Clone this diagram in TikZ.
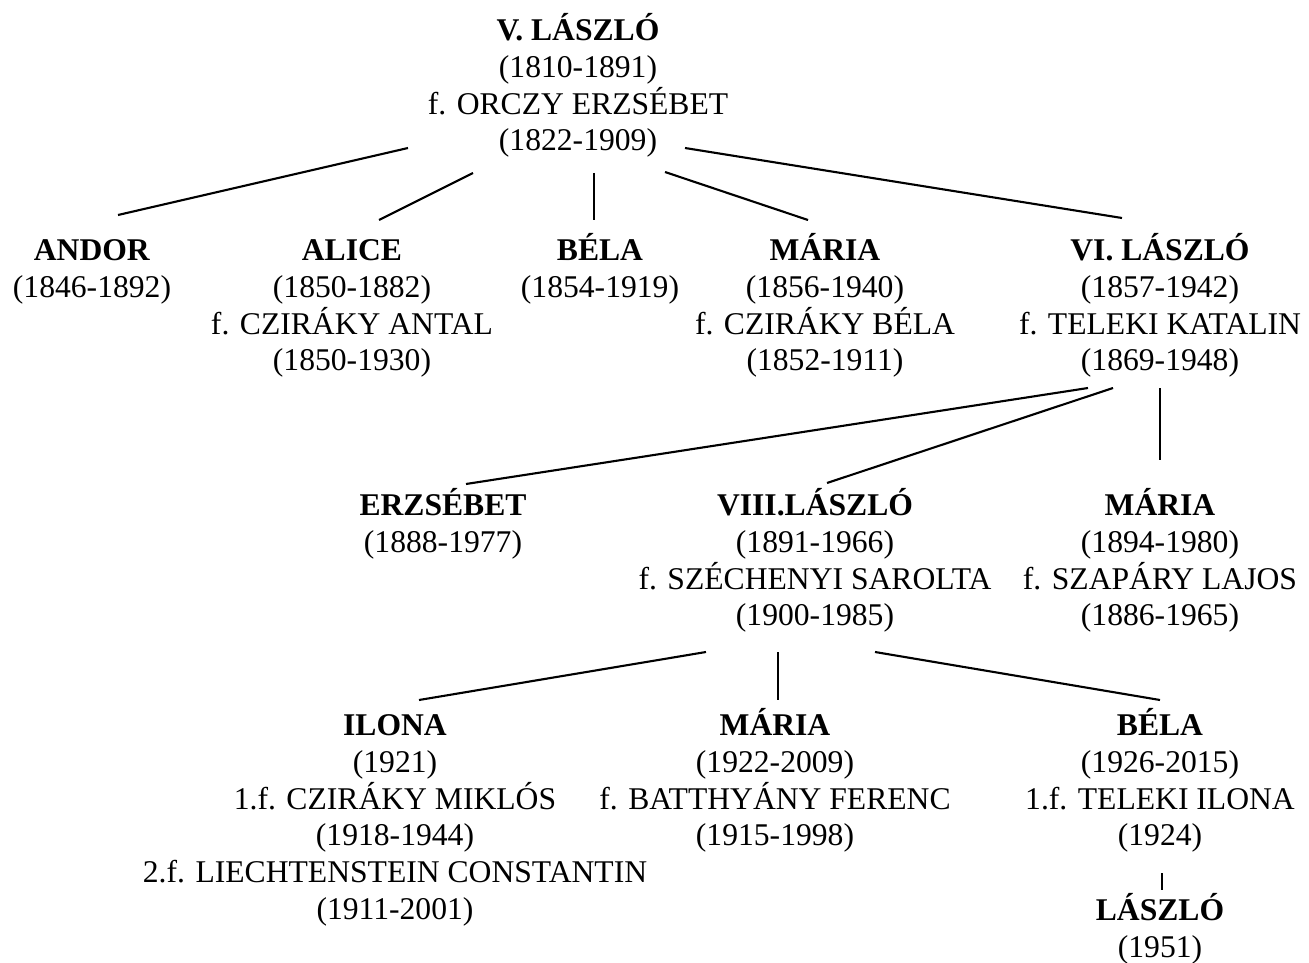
\documentclass[tikz,border=0pt]{standalone}
\usepackage{fontspec}
\setmainfont{Liberation Serif}
\usetikzlibrary{positioning}

\tikzset{
  person/.style={align=center, anchor=north, inner sep=0pt,
    font=\fontsize{18}{21}\selectfont},
  link/.style={line width=1.2pt},
  stem/.style={line width=0.8pt}
}
\newcommand{\pname}[1]{\rule{0pt}{17pt}\textbf{#1}}

\begin{document}
\begin{tikzpicture}[x=0.02cm,y=-0.02cm]
\useasboundingbox (0,0) rectangle (1309,963);
% generation 1
\node[person] (laszloV) at (578,10) {\pname{V. LÁSZLÓ}\\(1810-1891)\\f. ORCZY ERZSÉBET\\(1822-1909)};
% generation 2
\node[person] (andor) at (92,230) {\pname{ANDOR}\\(1846-1892)};
\node[person] (alice) at (352,230) {\pname{ALICE}\\(1850-1882)\\f. CZIRÁKY ANTAL\\(1850-1930)};
\node[person] (bela) at (600,230) {\pname{BÉLA}\\(1854-1919)};
\node[person] (maria) at (825,230) {\pname{MÁRIA}\\(1856-1940)\\f. CZIRÁKY BÉLA\\(1852-1911)};
\node[person] (laszloVI) at (1160,230) {\pname{VI. LÁSZLÓ}\\(1857-1942)\\f. TELEKI KATALIN\\(1869-1948)};
% generation 3
\node[person] (erzsebet) at (443,485) {\pname{ERZSÉBET}\\(1888-1977)};
\node[person] (laszloVIII) at (815,485) {\pname{VIII.LÁSZLÓ}\\(1891-1966)\\f. SZÉCHENYI SAROLTA\\(1900-1985)};
\node[person] (maria2) at (1160,485) {\pname{MÁRIA}\\(1894-1980)\\f. SZAPÁRY LAJOS\\(1886-1965)};
% generation 4
\node[person] (ilona) at (395,705) {\pname{ILONA}\\(1921)\\1.f. CZIRÁKY MIKLÓS\\(1918-1944)\\2.f. LIECHTENSTEIN CONSTANTIN\\(1911-2001)};
\node[person] (maria3) at (775,705) {\pname{MÁRIA}\\(1922-2009)\\f. BATTHYÁNY FERENC\\(1915-1998)};
\node[person] (bela2) at (1160,705) {\pname{BÉLA}\\(1926-2015)\\1.f. TELEKI ILONA\\(1924)};
% generation 5
\node[person] (laszlo) at (1160,890) {\pname{LÁSZLÓ}\\(1951)};

% connector ends
\coordinate (laszloV-andor) at (408,148);
\coordinate (laszloV-alice) at (473,173);
\coordinate (laszloV-bela) at (594,173);
\coordinate (laszloV-maria) at (665,172);
\coordinate (laszloV-laszloVI) at (685,148);
\coordinate (andor-top) at (118,215);
\coordinate (alice-top) at (379,220);
\coordinate (bela-top) at (594,220);
\coordinate (maria-top) at (808,220);
\coordinate (laszloVI-top) at (1122,218);
\coordinate (laszloVI-erzsebet) at (1088,388);
\coordinate (laszloVI-laszloVIII) at (1113,388);
\coordinate (laszloVI-maria2) at (1160,388);
\coordinate (erzsebet-top) at (466,484);
\coordinate (laszloVIII-top) at (827,483);
\coordinate (maria2-top) at (1160,460);
\coordinate (laszloVIII-ilona) at (706,652);
\coordinate (laszloVIII-maria3) at (778,652);
\coordinate (laszloVIII-bela2) at (875,652);
\coordinate (ilona-top) at (419,700);
\coordinate (maria3-top) at (778,700);
\coordinate (bela2-top) at (1160,700);
\coordinate (bela2-laszlo) at (1162,873);
\coordinate (laszlo-top) at (1162,890);

\draw[link] (laszloV-andor) -- (andor-top);
\draw[link] (laszloV-alice) -- (alice-top);
\draw[stem] (laszloV-bela) -- (bela-top);
\draw[link] (laszloV-maria) -- (maria-top);
\draw[link] (laszloV-laszloVI) -- (laszloVI-top);
\draw[link] (laszloVI-erzsebet) -- (erzsebet-top);
\draw[link] (laszloVI-laszloVIII) -- (laszloVIII-top);
\draw[stem] (laszloVI-maria2) -- (maria2-top);
\draw[link] (laszloVIII-ilona) -- (ilona-top);
\draw[stem] (laszloVIII-maria3) -- (maria3-top);
\draw[link] (laszloVIII-bela2) -- (bela2-top);
\draw[stem] (bela2-laszlo) -- (laszlo-top);
\end{tikzpicture}
\end{document}
